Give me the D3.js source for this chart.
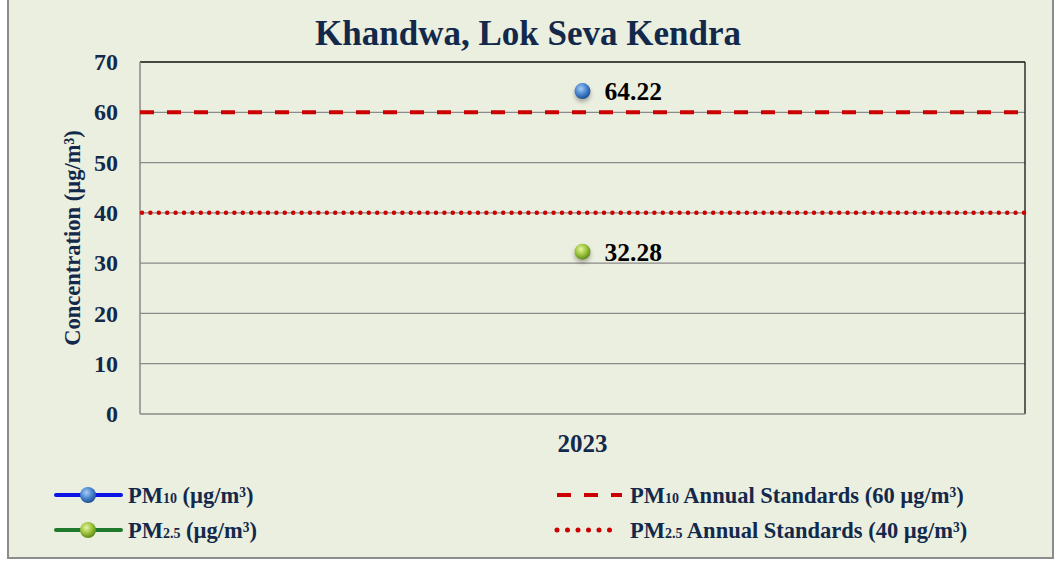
<!DOCTYPE html>
<html>
<head>
<meta charset="utf-8">
<script src="https://cdn.jsdelivr.net/npm/d3@7"></script>
<style>
  body { margin: 0; background: #fff; }
  text { font-family: "Liberation Serif", "Times New Roman", serif; font-weight: bold; }
</style>
</head>
<body>
<div id="chart"></div>
<script>
  // data
  var years = ["2023"]
  var pm10 = [64.22]
  var pm25 = [32.28]
  var yTicks = [0, 10, 20, 30, 40, 50, 60, 70]
  var standards = [60, 40]

  var width = 1060
  var height = 561
  var navy = "#13294b"

  var svg = d3.select("#chart")
    .append("svg")
    .attr("width", width)
    .attr("height", height)

  // gradients for the ball markers
  var defs = svg.append("defs")
  function ball(id, light, mid, dark) {
    var g = defs.append("radialGradient").attr("id", id)
      .attr("cx", "40%").attr("cy", "35%").attr("r", "65%")
    g.append("stop").attr("offset", "0%").attr("stop-color", light)
    g.append("stop").attr("offset", "55%").attr("stop-color", mid)
    g.append("stop").attr("offset", "100%").attr("stop-color", dark)
  }
  ball("blueBall", "#a9ccf2", "#4a86d0", "#1f4f92")
  ball("greenBall", "#e6f5a0", "#9cc43c", "#5f8a1c")
  var sh = defs.append("filter").attr("id", "shadow")
    .attr("x", "-50%").attr("y", "-50%").attr("width", "200%").attr("height", "200%")
  sh.append("feDropShadow").attr("dx", 0).attr("dy", 3).attr("stdDeviation", 2)
    .attr("flood-color", "#000").attr("flood-opacity", 0.3)

  // outer frame
  svg.append("rect")
    .attr("x", 8).attr("y", -2)
    .attr("width", 1045).attr("height", 560)
    .attr("fill", "#ebefdf")
    .attr("stroke", "#8c8c8c").attr("stroke-width", 2)

  var margin = { left: 140, right: 1025, top: 62, bottom: 414 }

  var x = d3.scaleBand()
    .domain(years)
    .range([margin.left, margin.right])

  var y = d3.scaleLinear()
    .domain([0, 70])
    .range([margin.bottom, margin.top])

  // title
  svg.append("text")
    .attr("x", 528).attr("y", 45)
    .attr("text-anchor", "middle")
    .attr("font-size", 35)
    .attr("fill", navy)
    .text("Khandwa, Lok Seva Kendra")

  // grid lines
  svg.append("g")
    .selectAll("line")
    .data(yTicks.filter(function (d) { return d > 0 && d < 70 }))
    .enter()
    .append("line")
    .attr("x1", margin.left).attr("x2", margin.right)
    .attr("y1", function (d) { return y(d) })
    .attr("y2", function (d) { return y(d) })
    .attr("stroke", "#8a8a8a")
    .attr("stroke-width", 1.3)

  // plot border: top/right black, left/bottom gray
  svg.append("line")
    .attr("x1", margin.left).attr("x2", margin.right)
    .attr("y1", y(70)).attr("y2", y(70))
    .attr("stroke", "#111").attr("stroke-width", 1.3)
  svg.append("line")
    .attr("x1", margin.right).attr("x2", margin.right)
    .attr("y1", y(70)).attr("y2", y(0))
    .attr("stroke", "#111").attr("stroke-width", 1.3)
  svg.append("line")
    .attr("x1", margin.left).attr("x2", margin.left)
    .attr("y1", y(70)).attr("y2", y(0))
    .attr("stroke", "#8a8a8a").attr("stroke-width", 1.5)
  svg.append("line")
    .attr("x1", margin.left).attr("x2", margin.right)
    .attr("y1", y(0)).attr("y2", y(0))
    .attr("stroke", "#8a8a8a").attr("stroke-width", 1.5)

  // y axis
  var yAxis = svg.append("g")
    .attr("transform", "translate(" + (margin.left - 22) + ",0)")
    .call(d3.axisLeft(y).tickValues(yTicks).tickSize(0).tickPadding(0))
  yAxis.select(".domain").remove()
  yAxis.selectAll("text")
    .attr("font-size", 24)
    .attr("fill", navy)
    .attr("font-family", "Liberation Serif, serif")
    .attr("font-weight", "bold")
    .attr("dy", "0.32em")

  // x axis
  var xAxis = svg.append("g")
    .attr("transform", "translate(0," + (margin.bottom + 20) + ")")
    .call(d3.axisBottom(x).tickSize(0).tickPadding(0))
  xAxis.select(".domain").remove()
  xAxis.selectAll("text")
    .attr("font-size", 25)
    .attr("fill", navy)
    .attr("font-family", "Liberation Serif, serif")
    .attr("font-weight", "bold")
    .attr("dy", "0.71em")

  // y axis title
  svg.append("text")
    .attr("transform", "translate(80," + ((margin.top + margin.bottom) / 2) + ") rotate(-90)")
    .attr("text-anchor", "middle")
    .attr("font-size", 22.5)
    .attr("fill", navy)
    .text("Concentration (µg/m³)")

  // standard lines
  svg.append("line")
    .attr("x1", margin.left).attr("x2", margin.right)
    .attr("y1", y(standards[0])).attr("y2", y(standards[0]))
    .attr("stroke", "#cc0000").attr("stroke-width", 4)
    .attr("stroke-dasharray", "14,13")
  svg.append("line")
    .attr("x1", margin.left + 2).attr("x2", margin.right)
    .attr("y1", y(standards[1])).attr("y2", y(standards[1]))
    .attr("stroke", "#cc0000").attr("stroke-width", 4.5)
    .attr("stroke-linecap", "round")
    .attr("stroke-dasharray", "0,8.4")

  // points
  var series = [
    { vals: pm10, fill: "url(#blueBall)" },
    { vals: pm25, fill: "url(#greenBall)" }
  ]
  series.forEach(function (s) {
    var cx = x(years[0]) + x.bandwidth() / 2
    svg.append("circle")
      .attr("cx", cx)
      .attr("cy", y(s.vals[0]))
      .attr("r", 8)
      .attr("fill", s.fill)
      .attr("filter", "url(#shadow)")
    svg.append("text")
      .attr("x", cx + 22)
      .attr("y", y(s.vals[0]) + 9)
      .attr("font-size", 25.5)
      .attr("fill", "#000")
      .text(s.vals[0].toFixed(2))
  })

  // legend
  var legend = svg.append("g")
  function legendText(xp, yp, sub, rest) {
    var t = legend.append("text")
      .attr("x", xp).attr("y", yp + 8)
      .attr("font-size", 22.5)
      .attr("fill", navy)
    t.append("tspan").text("PM")
    t.append("tspan").attr("font-size", 14).text(sub)
    t.append("tspan").text(rest)
  }
  var rows = [495, 530]
  var lineCols = ["#0a14e6", "#1f7a2e"]
  var balls = ["url(#blueBall)", "url(#greenBall)"]
  rows.forEach(function (ry, i) {
    legend.append("line")
      .attr("x1", 56).attr("x2", 121)
      .attr("y1", ry).attr("y2", ry)
      .attr("stroke", lineCols[i]).attr("stroke-width", 4)
      .attr("stroke-linecap", "round")
    legend.append("circle")
      .attr("cx", 88).attr("cy", ry).attr("r", 8)
      .attr("fill", balls[i])
  })
  legendText(128, rows[0], "10", " (µg/m³)")
  legendText(128, rows[1], "2.5", " (µg/m³)")

  legend.append("line")
    .attr("x1", 557).attr("x2", 622)
    .attr("y1", rows[0]).attr("y2", rows[0])
    .attr("stroke", "#cc0000").attr("stroke-width", 4)
    .attr("stroke-dasharray", "14,13")
  legend.append("line")
    .attr("x1", 557).attr("x2", 612)
    .attr("y1", rows[1]).attr("y2", rows[1])
    .attr("stroke", "#cc0000").attr("stroke-width", 5)
    .attr("stroke-linecap", "round")
    .attr("stroke-dasharray", "0,10.5")
  legendText(630, rows[0], "10", " Annual Standards (60 µg/m³)")
  legendText(630, rows[1], "2.5", " Annual Standards (40 µg/m³)")
</script>
</body>
</html>
